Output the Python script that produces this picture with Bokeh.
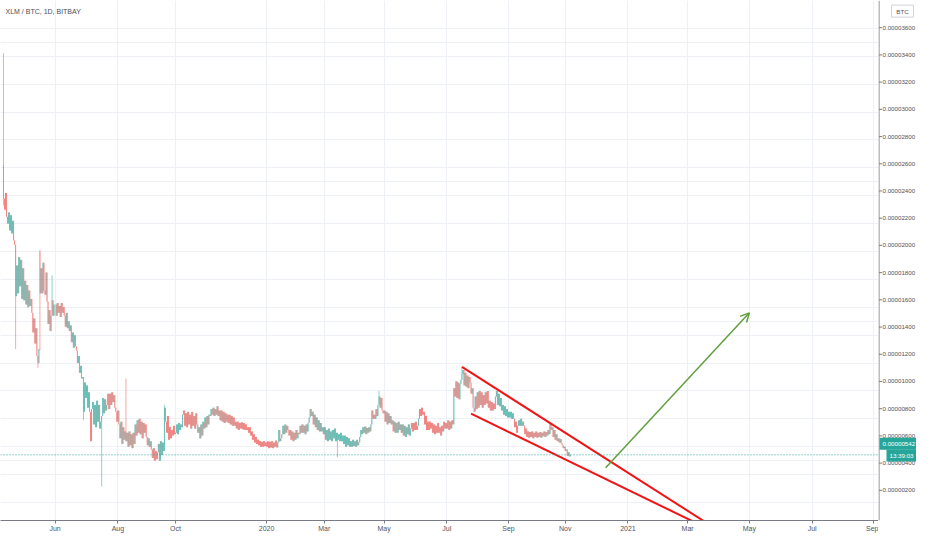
from bokeh.plotting import figure
from bokeh.layouts import row
from bokeh.core.properties import value
from bokeh.models import Range1d, FixedTicker, Span, Label, Arrow, OpenHead, Grid, ColumnDataSource
from bokeh.embed import file_html
from bokeh.resources import INLINE

# daily closes in satoshi (1e-8 BTC), one value per bar
closes_apr_may_2019 = [
    2380,
    2300, 2420, 2250, 2200, 2280, 2150, 2260, 2130, 2220, 2080, 2047,
    1680,
    1900, 1700, 1960, 1750, 1940, 1660, 1880, 1650,
    1790, 1620, 1760, 1600, 1720, 1610, 1660,
    1560, 1420, 1520, 1340, 1450, 1250, 1200,
    1300, 1700,
    1880, 1700, 1920, 1720, 1690, 1850,
    1640, 1480, 1580, 1430, 1540,
    1650, 1540, 1620]
closes_jun_jul_2019 = [
    1620, 1540, 1630, 1560, 1610, 1530, 1630, 1560, 1600,
    1540, 1460, 1560, 1450, 1500, 1430, 1470,
    1350, 1420, 1310, 1400, 1320,
    1290, 1200, 1250, 1130, 1180, 1090, 1100,
    850, 1060, 950, 1040,
    880, 990, 850, 640, 870,
    920, 760, 900, 740, 930, 780, 900, 730, 780,
    820,
    950, 840, 940, 860, 900, 980,
    870, 980, 900, 990, 920, 970, 880, 850, 780]
closes_aug_sep_2019 = [
    860, 760, 660, 780, 620, 740, 650, 710, 640,
    700, 600, 710, 610, 690, 590, 700, 620,
    760, 680, 790, 700, 800, 690, 780, 660, 770, 700, 760,
    670, 610, 660, 600, 640,
    580, 520, 590, 500, 570, 510, 560,
    620, 500, 640, 540, 630, 570,
    880,
    780, 700, 820, 650, 740, 660,
    720, 680, 750, 690]
closes_oct_dec_2019 = [
    700, 760, 690, 770, 720, 760,
    740, 830, 860, 750, 840, 740, 850, 760, 830, 730,
    850, 750, 820, 730, 840, 760, 700, 740, 660, 760,
    680, 780, 730, 810, 740, 820, 760, 830,
    820, 870, 830, 880, 820, 870, 830, 890, 820, 860,
    790, 860, 780, 850, 770, 840, 780, 830, 770,
    830, 760, 820, 750, 810, 750,
    780, 730, 780, 720, 770, 730, 775, 725, 770, 720, 760, 720, 740,
    700, 740, 680, 710, 650, 690, 630, 670, 620, 650,
    610, 640, 600, 635, 600, 640, 605, 630]
closes_jan_feb_2020 = [
    600, 640, 590, 635, 595, 640, 590, 630, 600, 645, 595, 630,
    720, 640, 660,
    690, 750, 690, 760, 700, 750, 720,
    680, 720, 650, 710, 640, 700, 650, 720, 660, 700,
    690, 750, 700, 760, 700, 750, 690, 760, 710, 770,
    810, 870, 820,
    850, 760, 830, 740, 810, 720, 790, 710, 770, 710,
    740, 690]
closes_mar_apr_2020 = [
    740, 650, 720, 640, 730, 650, 710, 640, 720, 660, 730, 640, 700, 650,
    690, 640, 700, 640, 680,
    620, 680, 600, 670, 610, 660, 600, 640,
    600, 650, 605, 640, 600, 650, 610, 630, 670,
    720, 690, 740, 700, 745, 690, 735, 700, 740, 710,
    760, 860, 800, 830,
    800, 870, 820, 900,
    960, 880, 950, 860, 840]
closes_may_jun_2020 = [
    860, 780, 850, 760, 840, 770, 820, 760,
    790, 710, 780, 700, 770, 700, 780, 720, 760,
    700, 760, 680, 750, 670, 740, 690, 760, 680, 730,
    770, 710, 770, 720, 780, 720, 750,
    800, 870, 820, 880, 830,
    850, 760, 820, 720, 780,
    720, 780, 730,
    770, 700, 760, 690, 750, 700, 770, 700, 740, 680, 750, 710, 780, 730, 770]
closes_jul_aug_2020 = [
    730, 790, 720, 780, 730, 790, 760,
    1020,
    960, 1070, 950, 1060, 940, 1050, 1080,
    1120,
    1150, 1040, 1130, 1030, 1110, 1020, 1100, 1060,
    980, 1020, 880, 850,
    960, 870, 990, 880, 1000, 900, 990, 880,
    970, 900, 990, 910, 1000,
    880, 930, 860, 920, 860, 910,
    870, 960, 1000, 900, 980, 890, 950,
    860, 900, 830, 890, 820, 870, 810]
closes_sep_oct_2020 = [
    850, 810, 850, 800, 840,
    800, 740, 780, 700, 750,
    790, 750, 800, 750, 780,
    750, 690, 730,
    670, 710, 665, 705, 670, 710, 660, 700, 670, 710, 665,
    700, 670, 705, 665, 700, 675, 710, 670, 705, 680, 720,
    690, 770, 720,
    740, 670, 720, 650, 690,
    640, 660, 630, 655, 625,
    610, 590, 600]
closes_nov_2020 = [570, 580, 535, 560, 530, 542]

# bars whose open does not sit on the previous close, and the longer wicks
gap_opens = {0: 2620, 36: 2000}
wick_highs = {0: 3421, 12: 2050, 36: 2011, 48: 1830, 121: 1090, 159: 900, 371: 1000, 453: 1173}
wick_lows = {0: 2330, 12: 1300, 34: 1166, 36: 1290, 79: 790, 97: 313, 330: 525}

# time axis: bar index of the first bar of each labelled month
month_ticks = [51, 113, 170, 260, 317, 376, 438, 499, 555, 617, 676, 737, 799, 860]
month_labels = ["Jun", "Aug", "Oct", "2020", "Mar", "May", "Jul", "Sep",
                "Nov", "2021", "Mar", "May", "Jul", "Sep"]
price_ticks = [200, 400, 600, 800, 1000, 1200, 1400, 1600, 1800, 2000,
               2200, 2400, 2600, 2800, 3000, 3200, 3400, 3600]

# drawings on the chart (bar index, satoshi)
wedge_upper_x = [453, 728]
wedge_upper_y = [1173, -100]
wedge_lower_x = [462, 728]
wedge_lower_y = [837, -100]
arrow_start = (595, 450)
arrow_end = (737, 1560)

last_price = 542
countdown = "13:39:03"

closes = (closes_apr_may_2019 + closes_jun_jul_2019 + closes_aug_sep_2019 +
          closes_oct_dec_2019 + closes_jan_feb_2020 + closes_mar_apr_2020 +
          closes_may_jun_2020 + closes_jul_aug_2020 + closes_sep_oct_2020 +
          closes_nov_2020)
n = len(closes)
opens = [gap_opens.get(i, closes[i - 1] if i > 0 else closes[0]) for i in range(n)]
highs = [max(opens[i], closes[i], wick_highs.get(i, 0)) for i in range(n)]
lows = [min(opens[i], closes[i], wick_lows.get(i, 10 ** 6)) for i in range(n)]

UP = "#26a69a"
DOWN = "#ef5350"
FONT = "Liberation Sans"
TEXT = "#50535e"
AXIS = "#787b86"
GRID = "#edf0f5"

# main chart: one bar ~ 1.012 px, frame 878 x 521 px
p = figure(width=878, height=534, output_backend="svg", toolbar_location=None,
           x_range=Range1d(-2.96, 864.6), y_range=Range1d(71, 3800),
           y_axis_location=None, min_border_left=0, min_border_top=0,
           min_border_bottom=13, min_border_right=0)
p.outline_line_color = None

xt = FixedTicker(ticks=month_ticks)
yt = FixedTicker(ticks=price_ticks)
p.xaxis.ticker = xt
p.xgrid.ticker = xt
p.add_layout(Grid(dimension=1, ticker=yt))
p.grid.grid_line_color = GRID
p.xaxis.major_label_overrides = dict(zip(month_ticks, month_labels))
ax = p.xaxis[0]
ax.axis_line_color = AXIS
ax.major_tick_line_color = AXIS
ax.major_tick_out = 3
ax.major_tick_in = 0
ax.minor_tick_out = 0
ax.minor_tick_in = 0
ax.major_label_standoff = 1
ax.major_label_text_font = FONT
ax.major_label_text_font_size = "7px"
ax.major_label_text_color = TEXT

for up, color in ((True, UP), (False, DOWN)):
    idx = [i for i in range(n) if (closes[i] >= opens[i]) == up]
    src = ColumnDataSource(dict(
        x=idx,
        high=[highs[i] for i in idx], low=[lows[i] for i in idx],
        top=[max(opens[i], closes[i]) for i in idx],
        bottom=[min(opens[i], closes[i]) for i in idx]))
    p.segment(x0="x", y0="low", x1="x", y1="high", source=src,
              line_color=color, line_width=1, line_alpha=0.5)
    p.vbar(x="x", width=0.8, top="top", bottom="bottom", source=src,
           fill_color=color, fill_alpha=0.5, line_color=None)

p.add_layout(Span(location=last_price, dimension="width", line_color=UP,
                  line_dash="1 2", line_width=1))

p.line(wedge_upper_x, wedge_upper_y, line_color="#f01414", line_width=2)
p.line(wedge_lower_x, wedge_lower_y, line_color="#f01414", line_width=2)
p.add_layout(Arrow(end=OpenHead(size=9, line_color="#5f9f3f", line_width=1.5),
                   x_start=arrow_start[0], y_start=arrow_start[1],
                   x_end=arrow_end[0], y_end=arrow_end[1],
                   line_color="#5f9f3f", line_width=1.5))

p.add_layout(Label(x=2, y=3722, text="XLM / BTC, 1D, BITBAY", text_font=FONT,
                   text_font_size="7px", text_color="#4a4e59", text_baseline="middle"))

# price scale strip on the right: x in pixels, same price mapping, full height
s = figure(width=38, height=534, output_backend="svg", toolbar_location=None,
           x_range=Range1d(0, 38), y_range=Range1d(-21.9, 3800),
           x_axis_location=None, y_axis_location=None,
           min_border_left=0, min_border_top=0, min_border_bottom=0, min_border_right=0)
s.outline_line_color = None
s.grid.visible = False
s.segment(x0=0.5, y0=-21.9, x1=0.5, y1=3800, line_color=AXIS, line_width=1)
s.segment(x0=[0.5] * len(price_ticks), y0=price_ticks, x1=[3.5] * len(price_ticks),
          y1=price_ticks, line_color=AXIS, line_width=1)
labels_src = ColumnDataSource(dict(x=[4] * len(price_ticks), y=price_ticks,
                                   t=[f"{v / 1e8:.8f}" for v in price_ticks]))
s.text(x="x", y="y", text="t", source=labels_src, text_font=value(FONT),
       text_font_size="6.2px", text_color=TEXT, text_baseline="middle")

# current price tag and bar countdown
tag_y = last_price - 12 * 7.158
s.rect(x=19.5, y=last_price, width=37, height=12, height_units="screen",
       fill_color=UP, line_color=None)
s.text(x=[4], y=[last_price], text=[f"{last_price / 1e8:.8f}"], text_font=value(FONT),
       text_font_size="6.2px", text_color="white", text_baseline="middle")
s.rect(x=23, y=tag_y, width=30, height=12, height_units="screen",
       fill_color=UP, line_color=None)
s.text(x=[23], y=[tag_y], text=[countdown], text_font=value(FONT),
       text_font_size="6.2px", text_color="white", text_align="center", text_baseline="middle")

# currency badge
s.rect(x=24, y=3722, width=22, height=12, height_units="screen",
       fill_color="white", line_color="#d1d4dc", line_width=1)
s.text(x=[24], y=[3722], text=["BTC"], text_font=value(FONT), text_font_size="6.2px",
       text_color=TEXT, text_align="center", text_baseline="middle")

open("out.html", "w").write(file_html(row(p, s), INLINE))
